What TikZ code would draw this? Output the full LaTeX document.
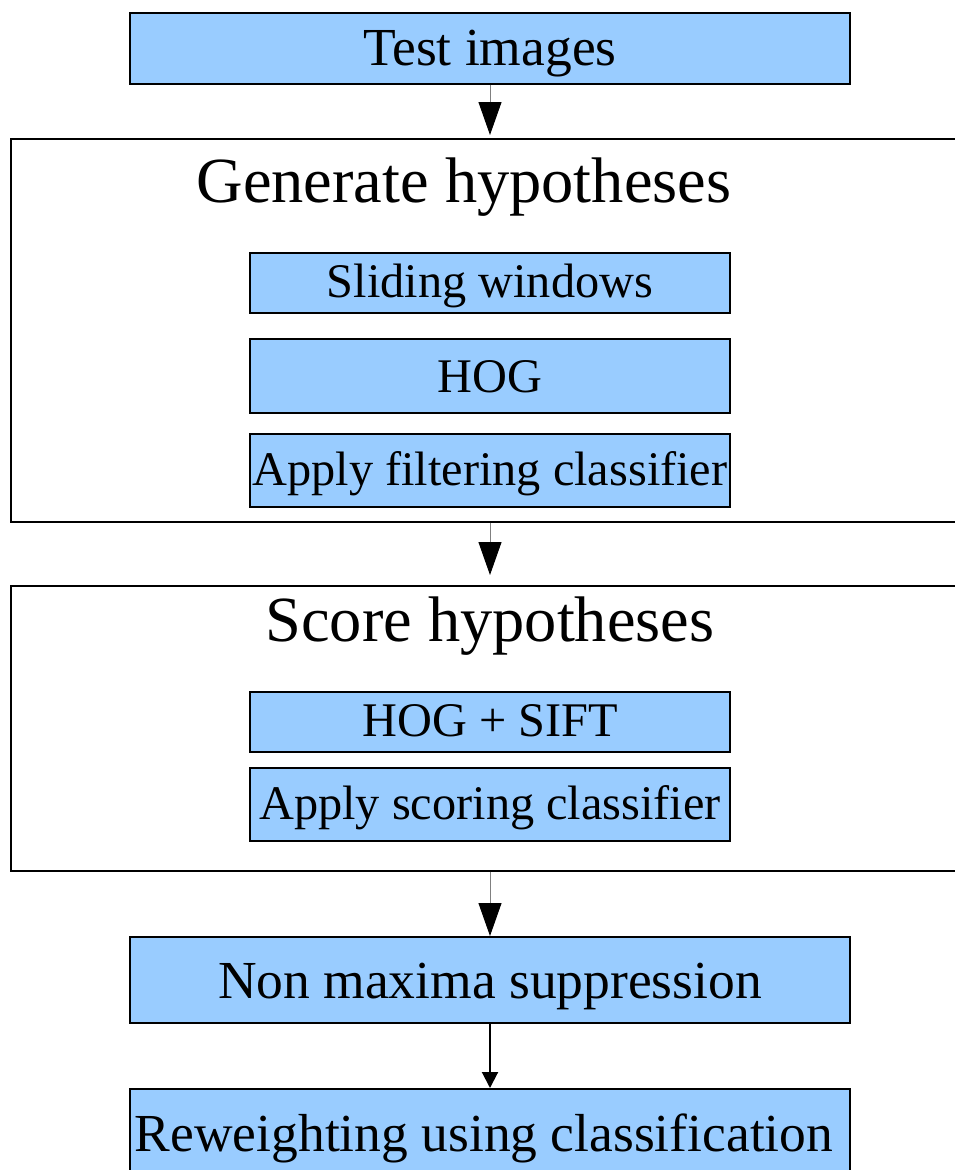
\documentclass[tikz,border=0pt]{standalone}
\usepackage{fontspec}
\setmainfont{Liberation Serif}
\usetikzlibrary{arrows.meta}
\definecolor{boxblue}{HTML}{99CCFF}
\definecolor{linegray}{HTML}{808080}
\tikzset{
  bluebox/.style={draw=black, line width=1.5pt, fill=boxblue, inner sep=0pt, anchor=north, align=center},
  mainbox/.style={bluebox, minimum width=720pt, font=\fontsize{53.5}{60}\selectfont},
  subbox/.style={bluebox, minimum width=480pt, font=\fontsize{48.3}{54}\selectfont},
  groupbox/.style={draw=black, line width=1.5pt, fill=white, inner sep=0pt, anchor=north west},
  grouptitle/.style={anchor=base, inner sep=0pt, font=\fontsize{64.4}{70}\selectfont},
  grayarrow/.style={draw=linegray, line width=1pt, -{Triangle[length=33pt,width=23pt,color=black]}},
  blackarrow/.style={draw=black, line width=2pt, -{Triangle[length=16pt,width=16pt]}}
}
\begin{document}
\begin{tikzpicture}[x=1pt,y=-1pt]
\clip (0,0) rectangle (955,1170);
\fill[white] (0,0) rectangle (955,1170);

\node[mainbox, minimum height=71pt, text height=35pt, text depth=0pt] (test) at (490,12) {Test images};

\node[groupbox, minimum width=965pt, minimum height=383pt] (gen) at (10,138) {};
\node[grouptitle] (gentitle) at (464,202) {Generate hypotheses};
\node[subbox, minimum height=60pt, text height=30pt, text depth=0pt] (slide) at (490,252) {Sliding windows};
\node[subbox, minimum height=74pt, text height=34pt, text depth=0pt] (hog) at (490,338) {HOG};
\node[subbox, minimum height=73pt, text height=31pt, text depth=0pt] (filt) at (490,433) {Apply filtering classifier};

\node[groupbox, minimum width=965pt, minimum height=285pt] (score) at (10,585) {};
\node[grouptitle] (scoretitle) at (490,641) {Score hypotheses};
\node[subbox, minimum height=60pt, text height=30pt, text depth=0pt] (hogsift) at (490,691) {HOG + SIFT};
\node[subbox, minimum height=73pt, text height=31pt, text depth=0pt] (scorecl) at (490,767) {Apply scoring classifier};

\node[mainbox, minimum height=86pt, text height=38pt, text depth=0pt] (nms) at (490,936) {Non maxima suppression};
\node[mainbox, minimum height=100pt, text height=26pt, text depth=0pt] (rew) at (490,1088) {Reweighting using classification\hspace*{12pt}};

\draw[grayarrow, shorten >=3pt] (test.south) -- (test.south |- gen.north);
\draw[grayarrow, shorten >=10pt] (test.south |- gen.south) -- (test.south |- score.north);
\draw[grayarrow] (test.south |- score.south) -- (nms.north);
\draw[blackarrow] (nms.south) -- (rew.north);
\end{tikzpicture}
\end{document}
